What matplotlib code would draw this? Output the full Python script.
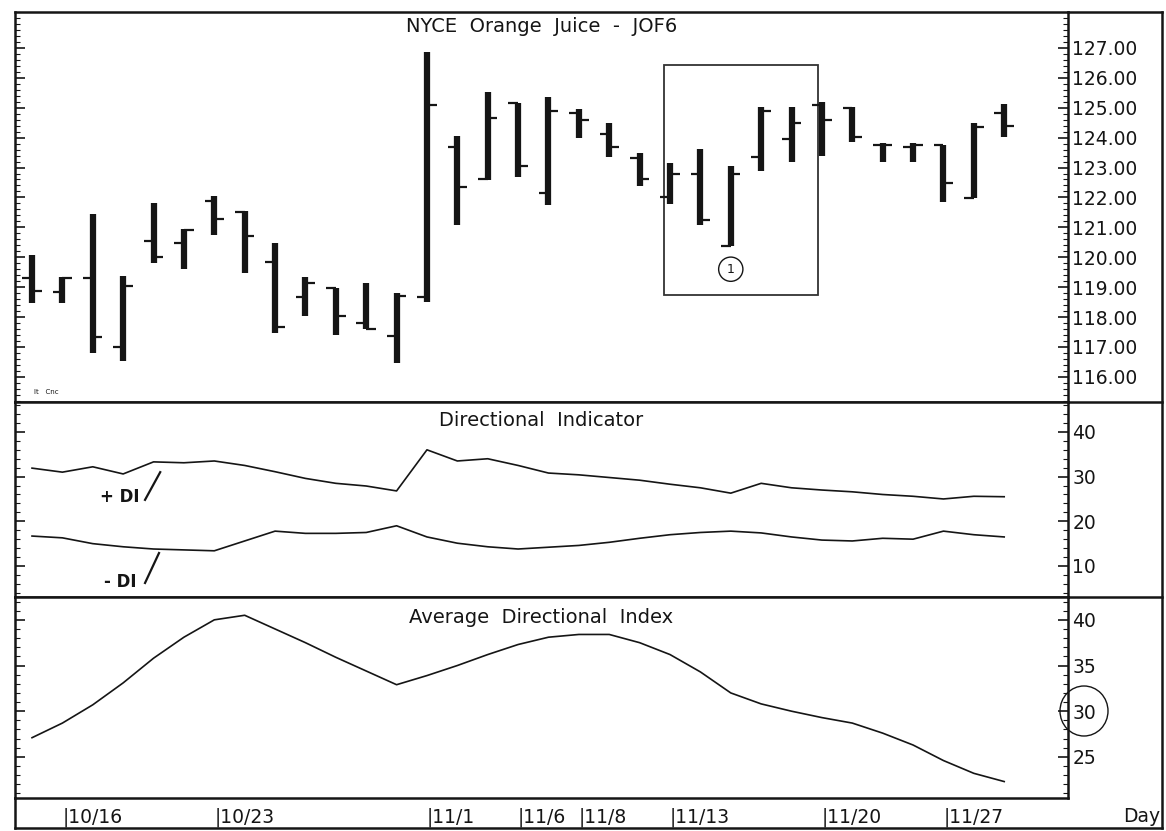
import matplotlib
matplotlib.use('Agg')
import matplotlib.pyplot as plt
from matplotlib.patches import Rectangle, Ellipse
from matplotlib.lines import Line2D
from matplotlib.ticker import MultipleLocator, FormatStrFormatter

# daily bars 10/13 .. 11/29 (trading days)
opens = [119.31, 118.84, 119.30, 117.00, 120.55, 120.48, 121.88, 121.50, 119.84, 118.67,
         118.97, 117.80, 117.37, 118.67, 123.69, 122.62, 125.16, 122.15, 124.83, 124.12,
         123.32, 122.02, 122.79, 120.38, 123.35, 123.96, 125.10, 125.00, 123.76, 123.70,
         123.76, 121.98, 124.83]
highs = [120.08, 119.34, 121.45, 119.37, 121.82, 120.94, 122.05, 121.55, 120.48, 119.34,
         118.97, 119.14, 118.81, 126.87, 124.06, 125.53, 125.16, 125.36, 124.96, 124.49,
         123.49, 123.15, 123.62, 123.05, 125.03, 125.03, 125.19, 125.03, 123.82, 123.82,
         123.76, 124.49, 125.13]
lows = [118.47, 118.47, 116.80, 116.53, 119.81, 119.60, 120.75, 119.47, 117.47, 118.04,
        117.40, 117.60, 116.46, 118.50, 121.08, 122.59, 122.69, 121.75, 123.99, 123.35,
        122.38, 121.78, 121.08, 120.38, 122.89, 123.19, 123.39, 123.86, 123.19, 123.19,
        121.85, 121.98, 124.02]
closes = [118.87, 119.30, 117.33, 119.05, 120.01, 120.90, 121.28, 120.71, 117.67, 119.14,
          118.04, 117.60, 118.71, 125.09, 122.35, 124.66, 123.05, 124.90, 124.59, 123.69,
          122.62, 122.79, 121.25, 122.79, 124.90, 124.49, 124.59, 124.02, 123.76, 123.75,
          122.48, 124.36, 124.39]

plus_di = [31.9, 31.0, 32.2, 30.6, 33.3, 33.1, 33.5, 32.5, 31.1, 29.6,
           28.5, 27.9, 26.8, 36.0, 33.5, 34.0, 32.5, 30.8, 30.4, 29.8,
           29.2, 28.3, 27.5, 26.3, 28.5, 27.5, 27.0, 26.6, 26.0, 25.6,
           25.0, 25.6, 25.5]
minus_di = [16.7, 16.3, 15.0, 14.3, 13.8, 13.6, 13.4, 15.6, 17.8, 17.3,
            17.3, 17.5, 19.0, 16.5, 15.1, 14.3, 13.8, 14.2, 14.6, 15.3,
            16.2, 17.0, 17.5, 17.8, 17.4, 16.5, 15.8, 15.6, 16.2, 16.0,
            17.8, 17.0, 16.5]
adx = [27.1, 28.7, 30.7, 33.1, 35.8, 38.1, 40.0, 40.5, 39.0, 37.5,
       35.9, 34.4, 32.9, 33.9, 35.0, 36.2, 37.3, 38.1, 38.4, 38.4,
       37.5, 36.2, 34.3, 32.0, 30.8, 30.0, 29.3, 28.7, 27.6, 26.3,
       24.6, 23.2, 22.3]

date_labels = ['10/16', '10/23', '11/1', '11/6', '11/8', '11/13', '11/20', '11/27']
date_days = [1, 6, 13, 16, 18, 21, 26, 30]

days = list(range(len(opens)))
W, H = 1166, 831
ink = '#151515'

fig = plt.figure(figsize=(W / 100, H / 100), dpi=100)
fig.patch.set_facecolor('white')


def box(top, bottom):
    return [15 / W, 1 - bottom / H, (1068 - 15) / W, (bottom - top) / H]


ax1 = fig.add_axes(box(12, 402))
ax2 = fig.add_axes(box(402, 597))
ax3 = fig.add_axes(box(597, 798))

for ax in (ax1, ax2, ax3):
    ax.set_xlim(-0.56, 34.1)
    for s in ax.spines.values():
        s.set_linewidth(1.8)
        s.set_color(ink)
    ax.yaxis.tick_right()
    ax.tick_params(axis='y', which='both', direction='in', left=True, right=True,
                   labelleft=False, labelright=True, labelsize=13.5, colors=ink, pad=3)
    ax.tick_params(axis='y', which='major', length=7, width=1.2)
    ax.tick_params(axis='y', which='minor', length=3.5, width=0.8)
    ax.tick_params(axis='x', which='both', bottom=False, top=False, labelbottom=False)

# price bars
ax1.vlines(days, lows, highs, color=ink, linewidth=4.5)
ax1.hlines(opens, [d - 0.32 for d in days], days, color=ink, linewidth=1.6)
ax1.hlines(closes, days, [d + 0.32 for d in days], color=ink, linewidth=1.6)
ax1.set_ylim(115.16, 128.2)
ax1.yaxis.set_major_locator(MultipleLocator(1))
ax1.yaxis.set_minor_locator(MultipleLocator(0.2))
ax1.yaxis.set_major_formatter(FormatStrFormatter('%.2f'))
ax1.set_yticks([v for v in range(116, 128)])
ax1.text(0.5, 0.962, 'NYCE  Orange  Juice  -  JOF6', transform=ax1.transAxes,
         ha='center', va='center', fontsize=14, color=ink)
ax1.text(0.018, 0.02, 'It   Cnc', transform=ax1.transAxes, fontsize=5, color=ink)
ax1.add_patch(Rectangle((20.8, 118.74), 5.07, 7.69, fill=False, edgecolor='#333333',
                        linewidth=1.3))
ax1.text(23, 119.6, '1', ha='center', va='center', fontsize=9, color=ink,
         bbox=dict(boxstyle='circle,pad=0.45', fc='white', ec=ink, lw=1.0))

# directional indicator
ax2.plot(days, plus_di, color=ink, linewidth=1.2)
ax2.plot(days, minus_di, color=ink, linewidth=1.2)
ax2.set_ylim(3.06, 46.7)
ax2.yaxis.set_major_locator(MultipleLocator(10))
ax2.yaxis.set_minor_locator(MultipleLocator(2))
ax2.set_yticks([10, 20, 30, 40])
ax2.text(0.5, 0.905, 'Directional  Indicator', transform=ax2.transAxes,
         ha='center', va='center', fontsize=14, color=ink)
ax2.text(2.9, 25.4, '+ DI', ha='center', va='center', fontsize=12, fontweight='bold', color=ink)
ax2.plot([3.72, 4.22], [24.8, 31.0], color=ink, linewidth=1.6)
ax2.text(2.9, 6.4, '- DI', ha='center', va='center', fontsize=12, fontweight='bold', color=ink)
ax2.plot([3.72, 4.18], [6.2, 12.9], color=ink, linewidth=1.6)

# average directional index
ax3.plot(days, adx, color=ink, linewidth=1.2)
ax3.set_ylim(20.5, 42.5)
ax3.yaxis.set_major_locator(MultipleLocator(5))
ax3.yaxis.set_minor_locator(MultipleLocator(1))
ax3.set_yticks([25, 30, 35, 40])
ax3.text(0.5, 0.90, 'Average  Directional  Index', transform=ax3.transAxes,
         ha='center', va='center', fontsize=14, color=ink)
ax3.set_xticks(date_days)
ax3.set_xticklabels(['|' + d for d in date_labels], ha='left')
ax3.tick_params(axis='x', which='major', labelbottom=True, length=0, pad=7,
                labelsize=13.5, labelcolor=ink)
for lab in ax3.get_xticklabels():
    lab.set_x(0)

# outer frame
def fline(x0, y0, x1, y1, lw=1.8):
    fig.add_artist(Line2D([x0 / W, x1 / W], [1 - y0 / H, 1 - y1 / H],
                          transform=fig.transFigure, color=ink, linewidth=lw))


fline(1068, 12, 1162, 12)
fline(1068, 402, 1162, 402)
fline(1068, 597, 1162, 597)
fline(1162, 12, 1162, 828)
fline(15, 828, 1162, 828)
fline(15, 798, 15, 828)

fig.text(1142 / W, 1 - 817 / H, 'Day', ha='center', va='center', fontsize=13.5, color=ink)
fig.add_artist(Ellipse((1084 / W, 1 - 711 / H), 48 / W, 50 / H, transform=fig.transFigure,
                       fill=False, edgecolor=ink, linewidth=1.0))

fig.savefig('out.png', dpi=100, facecolor='white')
